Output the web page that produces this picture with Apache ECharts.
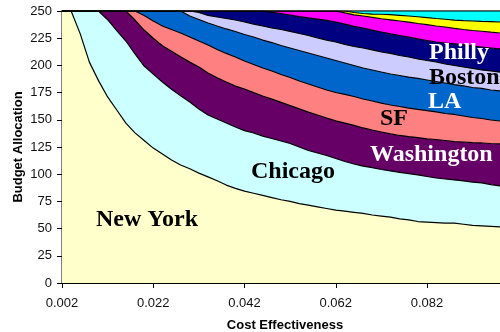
<!DOCTYPE html>
<html>
<head>
<meta charset="utf-8">
<script src="https://cdn.jsdelivr.net/npm/echarts@6/dist/echarts.min.js"></script>
<style>
html,body{margin:0;padding:0;background:#fff;}
#chart{width:500px;height:332px;}
</style>
</head>
<body>
<div id="chart"></div>
<script>
var categories = ['0.002','0.004','0.006','0.008','0.010','0.012','0.014','0.016','0.018','0.020',
  '0.022','0.024','0.026','0.028','0.030','0.032','0.034','0.036','0.038','0.040',
  '0.042','0.044','0.046','0.048','0.050','0.052','0.054','0.056','0.058','0.060',
  '0.062','0.064','0.066','0.068','0.070','0.072','0.074','0.076','0.078','0.080',
  '0.082','0.084','0.086','0.088','0.090','0.092','0.094','0.096','0.098'];

var newYork = [250,250,229,203,186,171,159,147,138,131,124,118.5,113,108.5,105,101,97.5,94,90,87,84.5,82.5,80.5,78.5,76.5,75,73,71.5,70,68.5,67,66,65,64,62.5,61.5,60.5,59,58,56.5,56,55.5,55,55,54,53,52.5,52,51.5];
var chicago = [0,0,21,47,64,71,73,75.4,72.5,68.4,68,66.2,65,63.5,61.4,59,56.9,56.7,57,56.4,55.5,55.4,54.5,54.3,54,53.2,52,50.3,49.5,48.7,47.4,45.7,44.4,43.5,43.5,42.8,42.5,42.6,42.6,42.8,41.9,41,40.6,39.7,39.8,39.8,39.5,38.5,37.7];
var washington = [0,0,0,0,0,8,18,27.6,31.2,33.1,33,33.3,35,36,36.6,38.5,38.6,37.9,37.7,37.6,38.3,37.1,36.9,36.2,35.5,34.8,35,35.2,34.9,34.5,34.6,35.3,35.5,35,34.6,34.5,34,34,34,34.4,34.5,35.4,35.4,35.3,35.8,36.2,36.7,37.7,38.6];
var sf = [0,0,0,0,0,0,0,0,8.3,13.4,15.8,18.2,20,21.8,23.1,23.9,25.8,26,26.3,26.7,25.7,25.8,25.7,25.9,25.6,25.9,25.7,25.9,25.7,25.7,26.1,26.3,26.5,26.6,26.7,26.6,26.6,26.6,26.2,25.8,26.1,25.3,24.8,24.9,23.9,23.1,22.5,21.6,21.1];
var la = [0,0,0,0,0,0,0,0,0,4.1,9.2,13.8,17,20.2,19.3,19.8,20.2,21.6,22.5,23.5,24.4,25.3,25.7,26.1,26.7,27.1,28,28.5,29,29.4,29.4,28.9,28.5,28.5,28.5,28.5,28.5,28.5,28.5,28.5,28.1,28,28,27.5,27.6,27.6,27.6,27.6,27.6];
var boston = [0,0,0,0,0,0,0,0,0,0,0,0,0,0,4.6,6.4,6.9,8.3,9.6,10.5,11.5,11.9,12.9,13.4,14.7,15.2,15.6,16.1,16.1,16.5,17,17,17.5,18.4,18.4,18.4,18.9,18.4,18.4,17.9,17.9,17.9,17.5,17.5,17.4,17.5,17,17.5,17.4];
var philly = [0,0,0,0,0,0,0,0,0,0,0,0,0,0,0,1.4,4.1,5.5,6.9,8.3,10.1,12,13.8,14.4,14.7,15.1,15.6,16.1,17.4,18,18.4,18.8,18.4,18.4,18.3,18.4,17.9,18.4,18.4,18.4,18.4,18.4,19.3,19.8,20.3,20.6,21.1,21.1,21.2];
var area8 = [0,0,0,0,0,0,0,0,0,0,0,0,0,0,0,0,0,0,0,0,0,0,0,1.2,2.3,3.7,5.1,6.4,7.4,8.7,10.1,10.2,10.7,11,11.7,12.2,13,13.3,13.6,14.2,14.5,14.7,14.7,14.4,14.2,14.3,14.5,14.5,14.7];
var area9 = [0,0,0,0,0,0,0,0,0,0,0,0,0,0,0,0,0,0,0,0,0,0,0,0,0,0,0,0,0,0,0,1.8,2.1,2.3,3,4.1,4.7,5.2,5.7,6.2,6.5,6.9,7.1,7.6,8.2,8.7,9,9.7,10.1];
var area10 = [0,0,0,0,0,0,0,0,0,0,0,0,0,0,0,0,0,0,0,0,0,0,0,0,0,0,0,0,0,0,0,0,1.4,2.3,2.8,3,3.4,4,4.6,5.3,6.1,6.9,7.6,8.3,8.8,9.2,9.6,9.8,10.1];

var seriesNames = ['New York','Chicago','Washington','SF','LA','Boston','Philly','Area 8','Area 9','Area 10'];
var seriesData = [newYork, chicago, washington, sf, la, boston, philly, area8, area9, area10];
var seriesColors = ['#FFFFCC','#CCFFFF','#660066','#FF8080','#0066CC','#CCCCFF','#000080','#FF00FF','#FFFF00','#00FFFF'];

var labelTexts = ['New York','Chicago','Washington','SF','LA','Boston','Philly'];
var labelColors = ['#000','#000','#fff','#000','#fff','#000','#fff'];
var labelPos = [[96,220],[251,172],[370,155],[380,119],[428,101.5],[429,78],[429,53]];

var chart = echarts.init(document.getElementById('chart'), null, {renderer:'canvas'});
var series = seriesNames.map(function(n, k){
  return {
    name: n, type: 'line', stack: 'total', data: seriesData[k],
    showSymbol: false, symbol: 'none', smooth: false,
    lineStyle: {color: '#000', width: 1.2},
    areaStyle: {color: seriesColors[k], opacity: 1},
    emphasis: {disabled: true}, z: 2
  };
});
var graphics = labelTexts.map(function(t, k){
  return {
    type: 'text', x: labelPos[k][0], y: labelPos[k][1], z: 100,
    style: {text: t, fill: labelColors[k], font: 'bold 24px "Liberation Serif", "Times New Roman", serif',
      textAlign: 'left', textVerticalAlign: 'middle'}
  };
});

chart.setOption({
  animation: false,
  backgroundColor: '#fff',
  grid: {left: 62, right: 0, top: 11, bottom: 49, containLabel: false, outerBoundsMode: 'none',
    show: true, borderColor: '#808080', borderWidth: 2, backgroundColor: 'transparent'},
  xAxis: {
    type: 'category', data: categories, boundaryGap: false,
    name: 'Cost Effectiveness', nameLocation: 'middle', nameGap: 36,
    nameTextStyle: {fontFamily: 'Liberation Sans, Arial, sans-serif', fontWeight: 'bold', fontSize: 13, color: '#000', padding: [0,0,0,8]},
    axisLine: {show: true, lineStyle: {color: '#000', width: 1}},
    axisTick: {show: true, interval: 9, length: 5, lineStyle: {color: '#000'}},
    axisLabel: {interval: 9, margin: 14, fontFamily: 'Liberation Sans, Arial, sans-serif', fontSize: 13, color: '#111'},
    splitLine: {show: false}
  },
  yAxis: {
    type: 'value', min: 0, max: 250, interval: 25,
    name: 'Budget Allocation', nameLocation: 'middle', nameGap: 37,
    nameTextStyle: {fontFamily: 'Liberation Sans, Arial, sans-serif', fontWeight: 'bold', fontSize: 13, color: '#000'},
    nameMoveOverlap: false,
    axisLine: {show: true, lineStyle: {color: '#000', width: 1}},
    axisTick: {show: true, length: 5, lineStyle: {color: '#000'}},
    axisLabel: {margin: 10, fontFamily: 'Liberation Sans, Arial, sans-serif', fontSize: 13, color: '#111'},
    splitLine: {show: false}
  },
  series: series,
  graphic: graphics
});
</script>
</body>
</html>
